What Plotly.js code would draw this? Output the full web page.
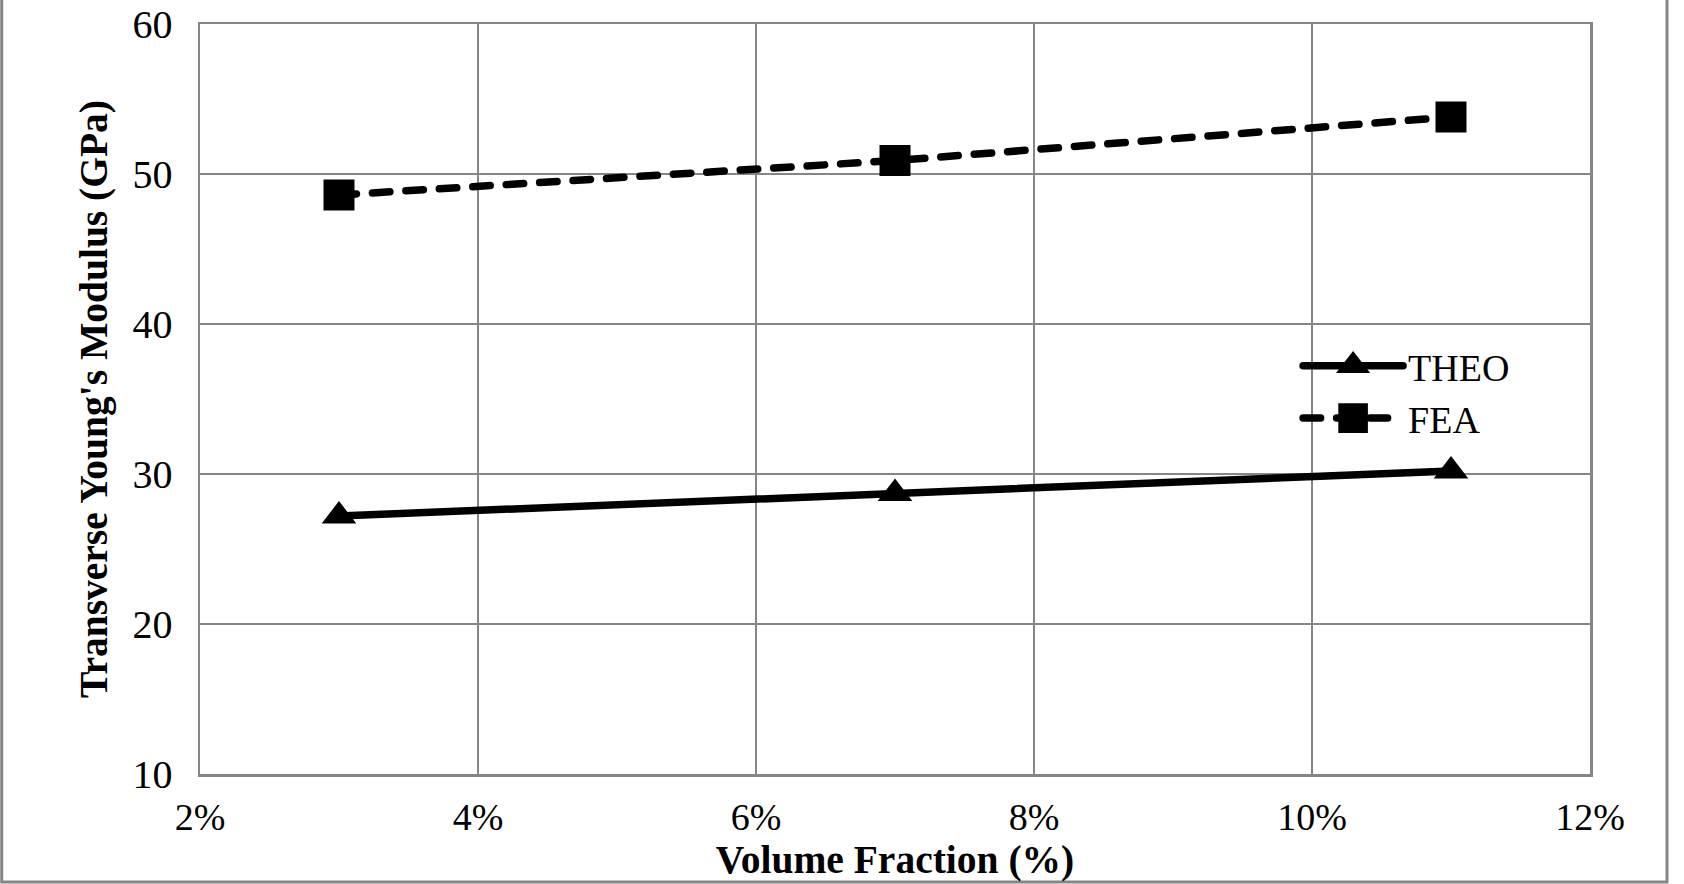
<!DOCTYPE html>
<html>
<head>
<meta charset="utf-8">
<script src="https://cdn.plot.ly/plotly-3.0.1.min.js"></script>
<style>
  html, body { margin: 0; padding: 0; background: #fff; }
  #chart { width: 1684px; height: 884px; }
  .scatterlayer .js-line, .legend .js-line { stroke-linecap: round; stroke-linejoin: round; }
</style>
</head>
<body>
<div id="chart"></div>
<script>
// Data
const volumeFraction = [0.03, 0.07, 0.11];
const theoModulus = [27.2, 28.7, 30.2];
const feaModulus = [48.6, 50.9, 53.8];
const seriesNames = ['THEO', 'FEA'];
const xTickValues = [0.02, 0.04, 0.06, 0.08, 0.10, 0.12];
const yTickValues = [10, 20, 30, 40, 50, 60];

const FONT = 'Liberation Serif, Times New Roman, serif';
const GRID = 'rgb(134,134,134)';

const traces = [
  {
    x: volumeFraction, y: theoModulus, name: seriesNames[0],
    type: 'scatter', mode: 'lines+markers',
    line: { color: '#000', width: 7.5 },
    marker: { symbol: 'triangle-up', size: 30, color: '#000' }
  },
  {
    x: volumeFraction, y: feaModulus, name: seriesNames[1],
    type: 'scatter', mode: 'lines+markers',
    line: { color: '#000', width: 7.5, dash: '17.5px,16px' },
    marker: { symbol: 'square', size: 31, color: '#000' }
  }
];

const layout = {
  width: 1684, height: 884,
  margin: { l: 200, r: 94, t: 24, b: 110 },
  paper_bgcolor: '#fff', plot_bgcolor: '#fff',
  font: { family: FONT, size: 38, color: '#000' },
  showlegend: true,
  legend: {
    x: 0.79, y: 0.586, xanchor: 'left', yanchor: 'top',
    bgcolor: 'rgba(0,0,0,0)', itemwidth: 100,
    font: { family: FONT, size: 38, color: '#000' },
    tracegroupgap: 0
  },
  xaxis: {
    range: [0.02, 0.12], tickvals: xTickValues, tickformat: '.0%',
    showgrid: true, gridcolor: GRID, gridwidth: 2.5,
    showline: true, linecolor: GRID, linewidth: 2.5, mirror: true,
    zeroline: false, ticks: '', ticklabelstandoff: 8,
    tickfont: { family: FONT, size: 38, color: '#000' },
    title: { text: '<b>Volume Fraction (%)</b>', font: { family: FONT, size: 39.5, color: '#000' }, standoff: 0 },
    automargin: false
  },
  yaxis: {
    range: [10, 60], tickvals: yTickValues,
    showgrid: true, gridcolor: GRID, gridwidth: 2.5,
    showline: true, linecolor: GRID, linewidth: 2.5, mirror: true,
    zeroline: false, ticks: '', ticklabelstandoff: 17,
    tickfont: { family: FONT, size: 40, color: '#000' },
    title: { text: "<b>Transverse Young's Modulus (GPa)</b>", font: { family: FONT, size: 39.5, color: '#000' }, standoff: 13 },
    automargin: false
  },
  shapes: [
    { type: 'rect', xref: 'paper', yref: 'paper',
      x0: (1.7 - 200) / 1390, x1: (1667 - 200) / 1390,
      y0: (774 - 882) / 750, y1: 1.1,
      line: { color: GRID, width: 3 }, fillcolor: 'rgba(0,0,0,0)', layer: 'below' }
  ]
};

function enlargeLegendMarkers(gd) {
  // Plotly caps legend marker size at 16px; scale them up to match the plotted markers
  gd.querySelectorAll('.legend .legendpoints path.scatterpts').forEach(function (p) {
    const t = p.getAttribute('transform') || '';
    if (t.indexOf('scale') === -1) p.setAttribute('transform', t + ' scale(1.85)');
  });
}

Plotly.newPlot('chart', traces, layout, { displayModeBar: false, staticPlot: true })
  .then(function (gd) { enlargeLegendMarkers(gd); });
</script>
</body>
</html>
